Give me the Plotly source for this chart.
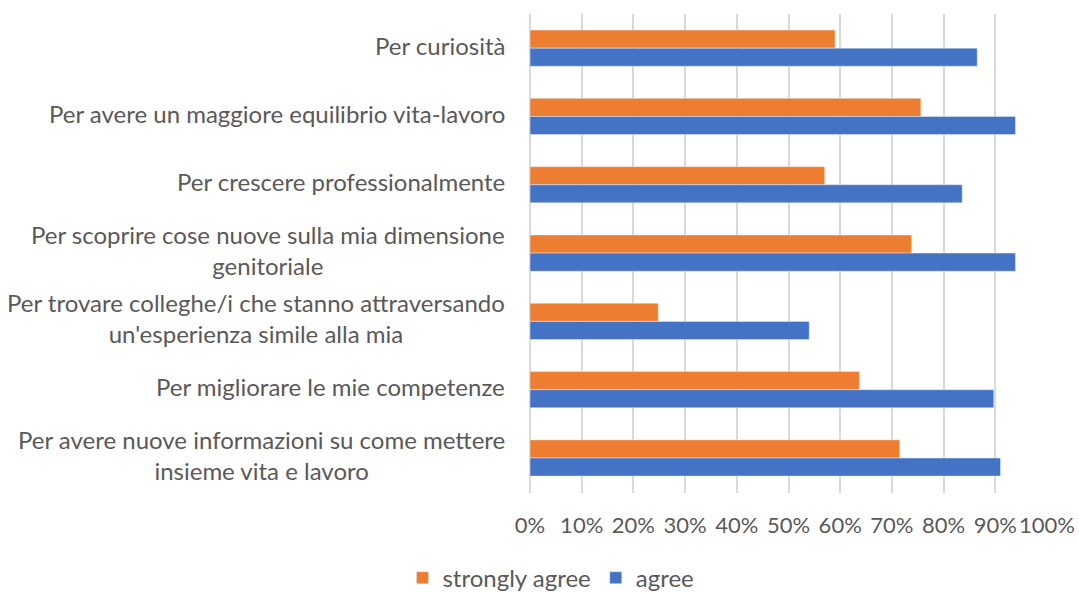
import plotly.graph_objects as go

categories = [
    "Per curiosità",
    "Per avere un maggiore equilibrio vita-lavoro",
    "Per crescere professionalmente",
    "Per scoprire cose nuove sulla mia dimensione<br>genitoriale",
    "Per trovare colleghe/i che stanno attraversando<br>un'esperienza simile alla mia",
    "Per migliorare le mie competenze",
    "Per avere nuove informazioni su come mettere<br>insieme vita e lavoro",
]
strongly_agree = [59.0, 75.6, 57.0, 73.8, 24.8, 63.7, 71.5]
agree = [86.5, 93.9, 83.6, 93.9, 54.0, 89.7, 91.0]
tick_vals = [0, 10, 20, 30, 40, 50, 60, 70, 80, 90, 100]
tick_text = ["0%", "10%", "20%", "30%", "40%", "50%", "60%", "70%", "80%", "90%", "100%"]

FONT = "Lato"
GRAY = "#595959"

fig = go.Figure()
fig.add_trace(go.Bar(y=categories, x=strongly_agree, orientation="h",
                     name="strongly agree", marker_color="#ED7D31"))
fig.add_trace(go.Bar(y=categories, x=agree, orientation="h",
                     name="agree", marker_color="#4472C4"))

for c in categories:
    fig.add_annotation(x=0, y=c, xref="paper", yref="y", text=c,
                       showarrow=False, xanchor="right", yanchor="middle",
                       align="center", xshift=-23, yshift=3,
                       font=dict(family=FONT, size=24, color=GRAY))

fig.update_layout(
    width=1079, height=593,
    margin=dict(l=530, r=32, t=14, b=100, autoexpand=False),
    plot_bgcolor="white", paper_bgcolor="white",
    barmode="group", bargap=0.47, bargroupgap=0,
    font=dict(family=FONT, size=24, color=GRAY),
    legend=dict(orientation="h", xref="container", yref="container",
                x=0.373, y=0.025, xanchor="left", yanchor="middle",
                font=dict(family=FONT, size=24, color=GRAY),
                itemwidth=30, traceorder="normal"),
    showlegend=True,
)
fig.update_xaxes(range=[0, 100], tickmode="array", tickvals=tick_vals, ticktext=tick_text,
                 automargin=False,
                 showgrid=True, gridcolor="#D9D9D9", gridwidth=1.5,
                 zeroline=True, zerolinecolor="#D9D9D9", zerolinewidth=1.5,
                 showline=False, ticks="", ticklabelstandoff=17,
                 tickfont=dict(family=FONT, size=22, color=GRAY))
fig.update_yaxes(autorange="reversed", showticklabels=False, showgrid=False,
                 zeroline=False, showline=False, automargin=False)

fig.write_html("out.html")
